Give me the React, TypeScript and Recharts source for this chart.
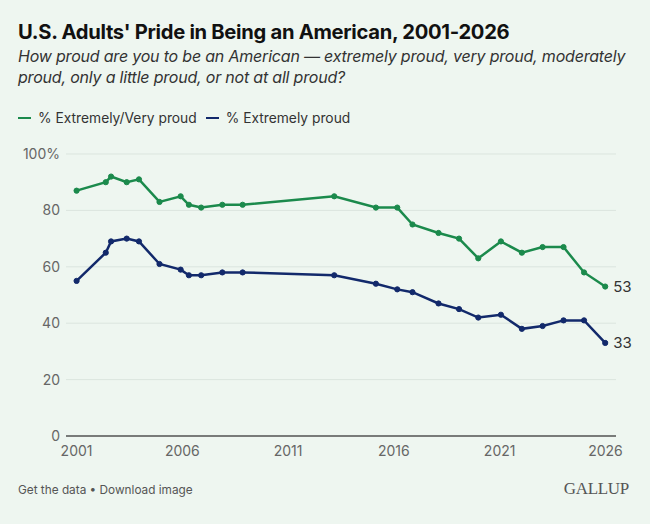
import { LineChart, Line, XAxis, YAxis, CartesianGrid } from "recharts";

// poll dates as decimal years (read from the x position of each point)
const years = [
  2001.0, 2002.38, 2002.63, 2003.37, 2003.95, 2004.92, 2005.92, 2006.31,
  2006.89, 2007.89, 2008.85, 2013.18, 2015.15, 2016.16, 2016.88, 2018.11,
  2019.08, 2019.99, 2021.06, 2022.05, 2023.03, 2024.02, 2024.99, 2025.99,
];
const extremelyOrVery = [
  87, 90, 92, 90, 91, 83, 85, 82, 81, 82, 82, 85, 81, 81, 75, 72, 70, 63, 69,
  65, 67, 67, 58, 53,
];
const extremely = [
  55, 65, 69, 70, 69, 61, 59, 57, 57, 58, 58, 57, 54, 52, 51, 47, 45, 42, 43,
  38, 39, 41, 41, 33,
];
const xTicks = [2001, 2006, 2011, 2016, 2021, 2026];
const yTicks = [0, 20, 40, 60, 80, 100];

const GREEN = "#1b8a4c";
const NAVY = "#12296b";
const FONT = "Inter, Roboto, sans-serif";

const data = years.map((year, i) => ({
  year,
  evp: extremelyOrVery[i],
  ext: extremely[i],
}));

const lastIndex = data.length - 1;

// value label only for the last point of a series
const EndLabel = (props: any) => {
  const { x, y, value, index } = props;
  if (index !== lastIndex) return null;
  return (
    <text
      x={x + 8}
      y={y}
      dy="0.35em"
      fontSize={15}
      fill="#333"
      fontFamily={FONT}
    >
      {value}
    </text>
  );
};

const LegendItem = ({ color, label }: { color: string; label: string }) => (
  <div style={{ display: "flex", alignItems: "center", marginRight: 9 }}>
    <span
      style={{
        display: "inline-block",
        width: 13,
        height: 2,
        background: color,
        marginRight: 7,
      }}
    />
    <span>{label}</span>
  </div>
);

const App = () => {
  return (
    <div
      style={{
        position: "absolute",
        top: 0,
        left: 0,
        width: 650,
        height: 524,
        background: "#eef6f0",
        fontFamily: FONT,
        overflow: "hidden",
      }}
    >
      <div
        style={{
          position: "absolute",
          left: 18,
          top: 19,
          fontSize: 20.2,
          fontWeight: 700,
          color: "#111",
          letterSpacing: -0.3,
          lineHeight: "25px",
        }}
      >
        U.S. Adults' Pride in Being an American, 2001-2026
      </div>
      <div
        style={{
          position: "absolute",
          left: 18,
          top: 46,
          width: 632,
          fontSize: 16,
          fontStyle: "italic",
          color: "#333",
          lineHeight: "21px",
          letterSpacing: -0.2,
          whiteSpace: "nowrap",
        }}
      >
        How proud are you to be an American — extremely proud, very proud, moderately
        <br />
        proud, only a little proud, or not at all proud?
      </div>
      <div
        style={{
          position: "absolute",
          left: 18,
          top: 109,
          display: "flex",
          fontSize: 13.8,
          color: "#333",
          lineHeight: "18px",
        }}
      >
        <LegendItem color={GREEN} label="% Extremely/Very proud" />
        <LegendItem color={NAVY} label="% Extremely proud" />
      </div>

      <div style={{ position: "absolute", left: 0, top: 0 }}>
        <LineChart
          width={650}
          height={470}
          data={data}
          margin={{ top: 154, right: 34, bottom: 4, left: 16 }}
        >
          <CartesianGrid vertical={false} stroke="#dbe5de" />
          <XAxis
            dataKey="year"
            type="number"
            domain={[2000.5, 2026.5]}
            ticks={xTicks}
            allowDataOverflow
            height={30}
            tickLine={false}
            tickSize={0}
            tickMargin={10}
            axisLine={{ stroke: "#555", strokeWidth: 1.5 }}
            tick={{ fill: "#666", fontSize: 14, fontFamily: FONT }}
          />
          <YAxis
            type="number"
            domain={[0, 100]}
            ticks={yTicks}
            width={50}
            axisLine={false}
            tickLine={false}
            tickSize={0}
            tickMargin={6}
            tickFormatter={(v: number) => (v === 100 ? "100%" : String(v))}
            tick={{ fill: "#666", fontSize: 14, fontFamily: FONT }}
          />
          <Line
            dataKey="evp"
            stroke={GREEN}
            strokeWidth={2.5}
            dot={{ r: 2.6, fill: GREEN, stroke: GREEN, strokeWidth: 1 }}
            activeDot={false}
            label={<EndLabel />}
            isAnimationActive={false}
          />
          <Line
            dataKey="ext"
            stroke={NAVY}
            strokeWidth={2.5}
            dot={{ r: 2.6, fill: NAVY, stroke: NAVY, strokeWidth: 1 }}
            activeDot={false}
            label={<EndLabel />}
            isAnimationActive={false}
          />
        </LineChart>
      </div>

      <div
        style={{
          position: "absolute",
          left: 18,
          top: 482,
          fontSize: 11.8,
          color: "#555",
          lineHeight: "17px",
        }}
      >
        Get the data • Download image
      </div>
      <div
        style={{
          position: "absolute",
          right: 21,
          top: 479,
          fontSize: 17,
          color: "#555",
          fontFamily: "'Liberation Serif', 'DejaVu Serif', serif",
          lineHeight: "20px",
          letterSpacing: -0.3,
        }}
      >
        GALLUP
      </div>
    </div>
  );
};

export default App;
